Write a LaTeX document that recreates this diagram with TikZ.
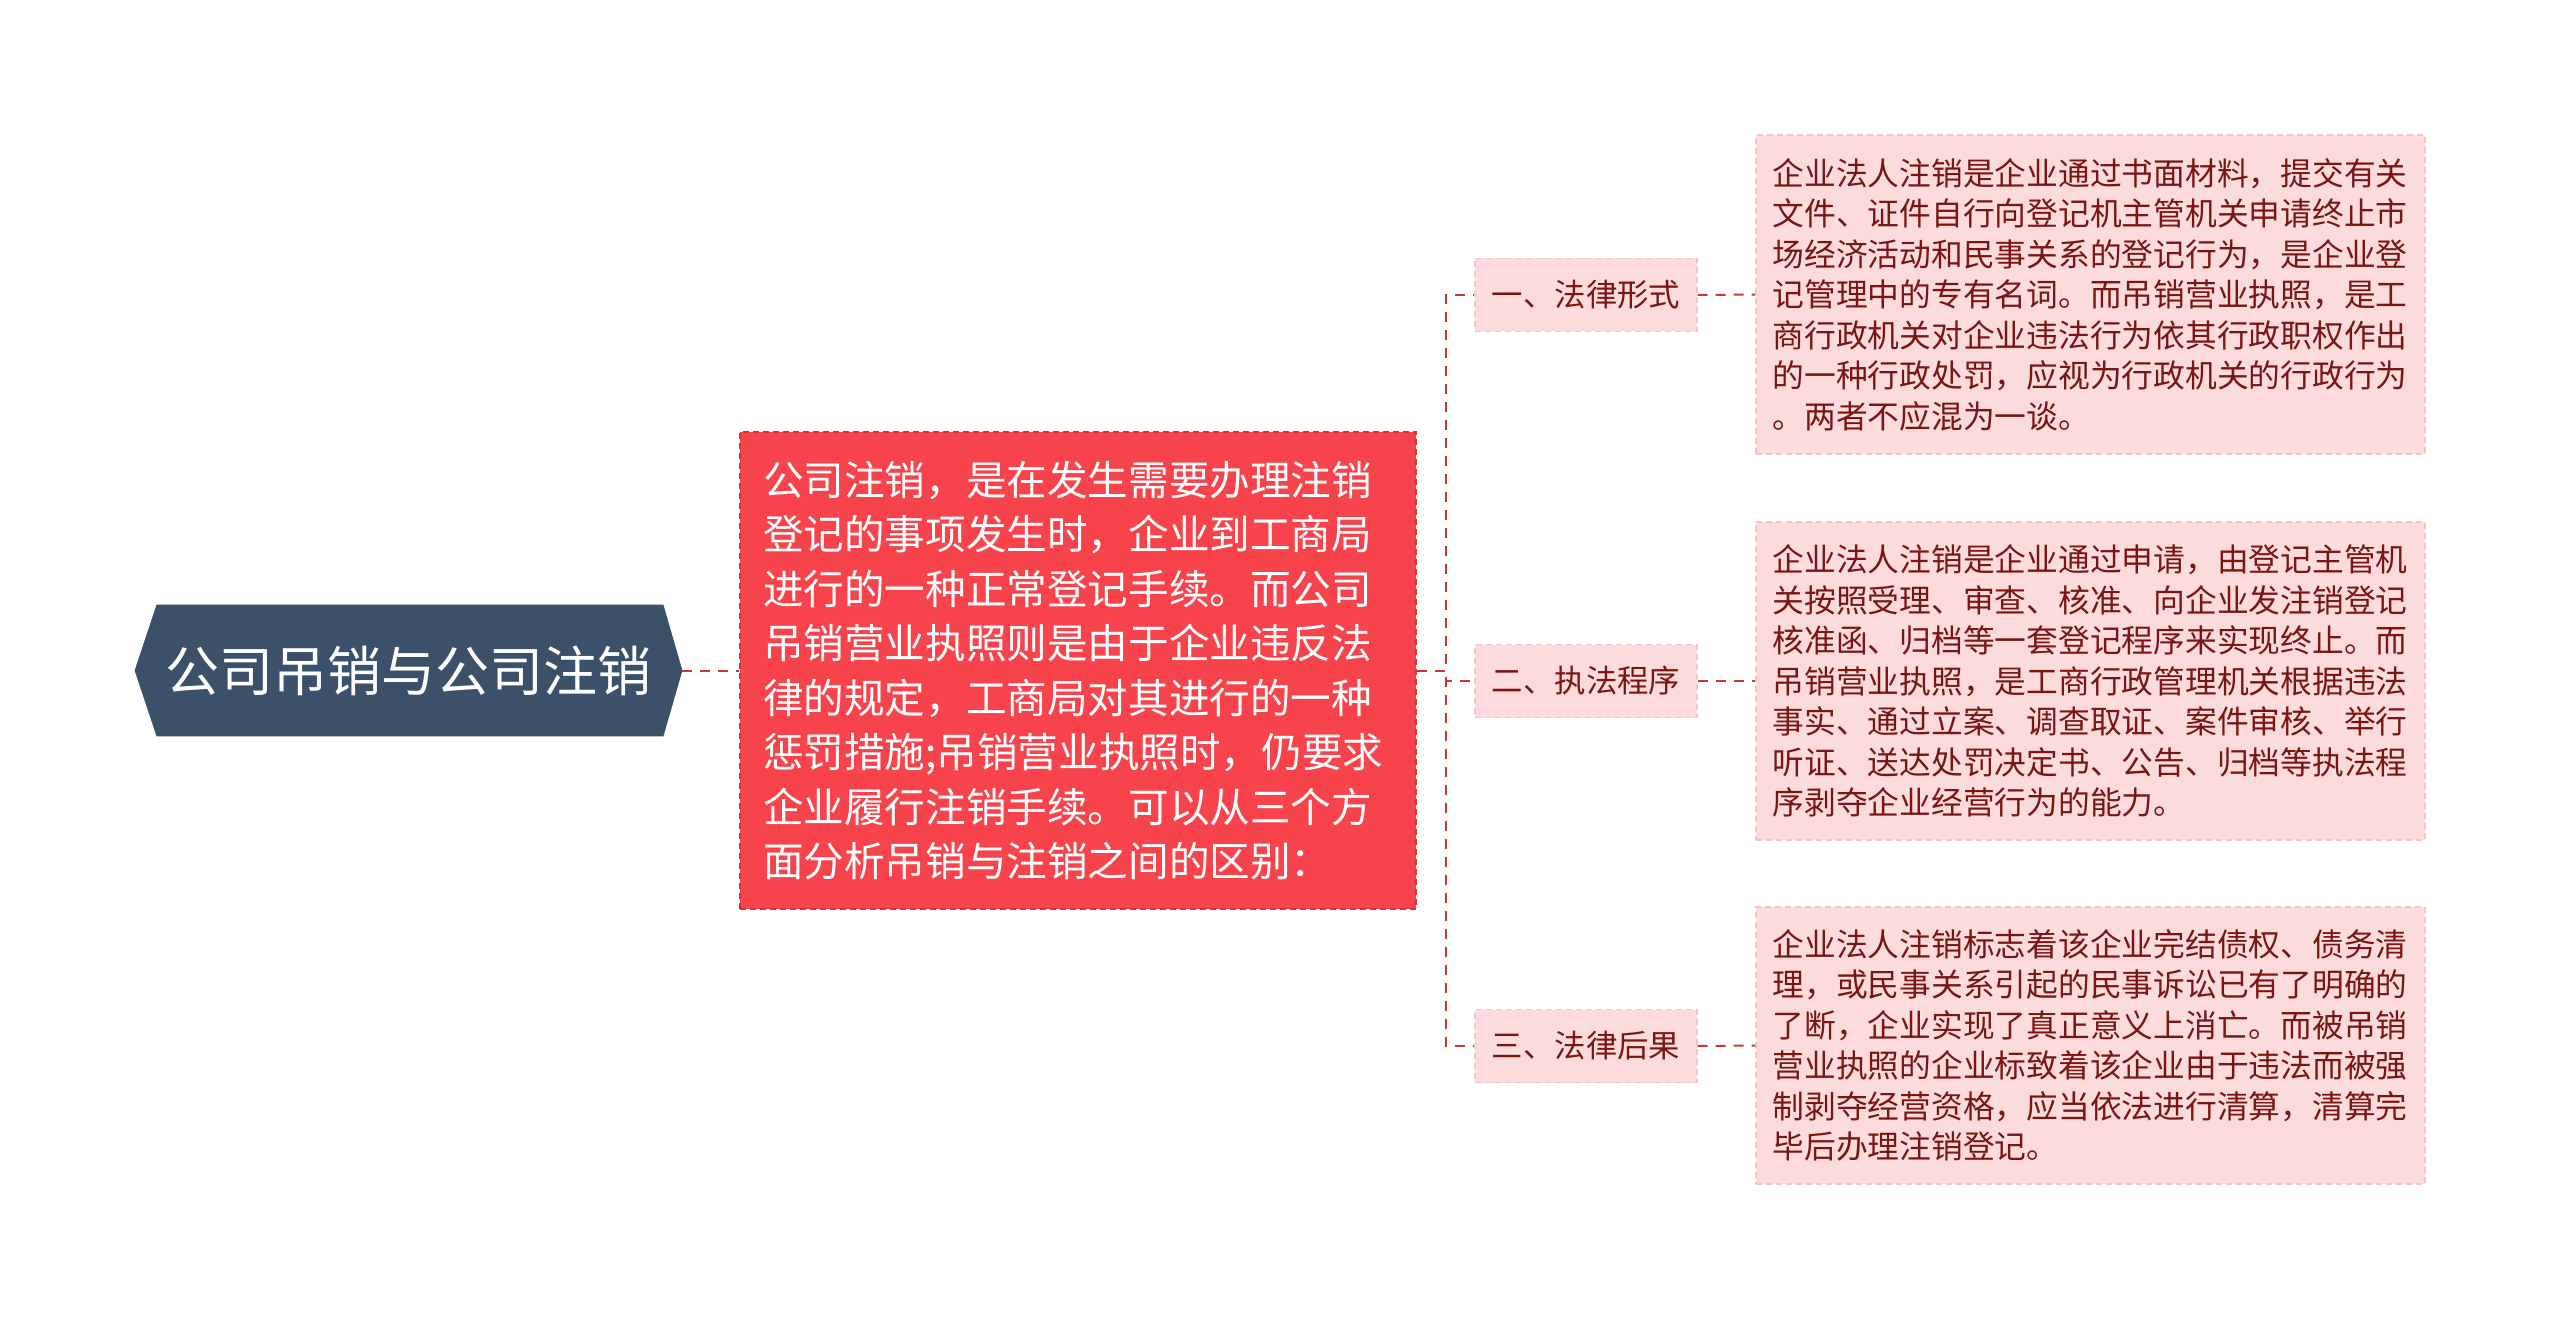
\documentclass[tikz,border=0pt]{standalone}
\usepackage{fontspec}
\newfontfamily\cjk{Noto Sans CJK SC}
\usetikzlibrary{backgrounds}
\definecolor{rootblue}{HTML}{3A5169}
\definecolor{redfill}{HTML}{F7434B}
\definecolor{redborder}{HTML}{D2343B}
\definecolor{pinkfill}{HTML}{FBDBDC}
\definecolor{pinkborder}{HTML}{F2C4C6}
\definecolor{darkred}{HTML}{7A1515}
\definecolor{linkred}{HTML}{C9373C}
\tikzset{
  rootnode/.style={minimum width=273.5pt, minimum height=65.5pt, inner sep=0pt, text=white,
    font=\cjk\fontsize{27pt}{32pt}\selectfont},
  redbox/.style={fill=redfill, draw=redborder, dash pattern=on 3pt off 2pt, line width=0.6pt,
    minimum width=338pt, minimum height=238.5pt, inner sep=0pt, text width=315pt, align=left,
    text=white, font=\cjk\fontsize{20.3pt}{27.25pt}\selectfont},
  subnode/.style={fill=pinkfill, draw=pinkborder, dash pattern=on 3pt off 2pt, line width=0.6pt,
    minimum width=111pt, minimum height=36.5pt, inner sep=0pt, text=darkred,
    font=\cjk\fontsize{15.7pt}{19pt}\selectfont},
  detail/.style={fill=pinkfill, draw=pinkborder, dash pattern=on 3pt off 2pt, line width=0.6pt,
    minimum width=334.5pt, inner sep=0pt, text width=318pt, align=left, text=darkred,
    font=\cjk\fontsize{15.875pt}{20.25pt}\selectfont},
  link/.style={draw=linkred, line width=1pt, dash pattern=on 5pt off 4pt}
}
\begin{document}
\begin{tikzpicture}[x=0.5pt,y=-0.5pt]
\useasboundingbox (0,0) rectangle (2560,1321);

\node[rootnode] (root) at (408.5,670.5) {公司吊销与公司注销};
\begin{scope}[on background layer]
\fill[rootblue] (root.west) -- ([xshift=11pt]root.north west) -- ([xshift=-9.5pt]root.north east)
  -- (root.east) -- ([xshift=-9.5pt]root.south east) -- ([xshift=11pt]root.south west) -- cycle;
\end{scope}

\node[redbox] (main) at (1078,670.5) {公司注销，是在发生需要办理注销\\登记的事项发生时，企业到工商局\\进行的一种正常登记手续。而公司\\吊销营业执照则是由于企业违反法\\律的规定，工商局对其进行的一种\\惩罚措施;吊销营业执照时，仍要求\\企业履行注销手续。可以从三个方\\面分析吊销与注销之间的区别：};

\node[subnode] (n1) at (1586,295) {一、法律形式};
\node[subnode] (n2) at (1586,681) {二、执法程序};
\node[subnode] (n3) at (1586,1046) {三、法律后果};

\node[detail, minimum height=159.5pt] (d1) at (2090.5,294.5) {企业法人注销是企业通过书面材料，提交有关\\文件、证件自行向登记机主管机关申请终止市\\场经济活动和民事关系的登记行为，是企业登\\记管理中的专有名词。而吊销营业执照，是工\\商行政机关对企业违法行为依其行政职权作出\\的一种行政处罚，应视为行政机关的行政行为\\。两者不应混为一谈。};
\node[detail, minimum height=159pt] (d2) at (2090.5,681) {企业法人注销是企业通过申请，由登记主管机\\关按照受理、审查、核准、向企业发注销登记\\核准函、归档等一套登记程序来实现终止。而\\吊销营业执照，是工商行政管理机关根据违法\\事实、通过立案、调查取证、案件审核、举行\\听证、送达处罚决定书、公告、归档等执法程\\序剥夺企业经营行为的能力。};
\node[detail, minimum height=138.5pt] (d3) at (2090.5,1045.5) {企业法人注销标志着该企业完结债权、债务清\\理，或民事关系引起的民事诉讼已有了明确的\\了断，企业实现了真正意义上消亡。而被吊销\\营业执照的企业标致着该企业由于违法而被强\\制剥夺经营资格，应当依法进行清算，清算完\\毕后办理注销登记。};

\coordinate (j) at (1446,670.5);
\draw[link] (root.east) -- (main.west);
\draw[link] (main.east) -- (j) |- (n1.west);
\draw[link] (main.east) -- (j) |- (n2.west);
\draw[link] (main.east) -- (j) |- (n3.west);
\draw[link] (n1.east) -- (d1.west);
\draw[link] (n2.east) -- (d2.west);
\draw[link] (n3.east) -- (d3.west);
\end{tikzpicture}
\end{document}
